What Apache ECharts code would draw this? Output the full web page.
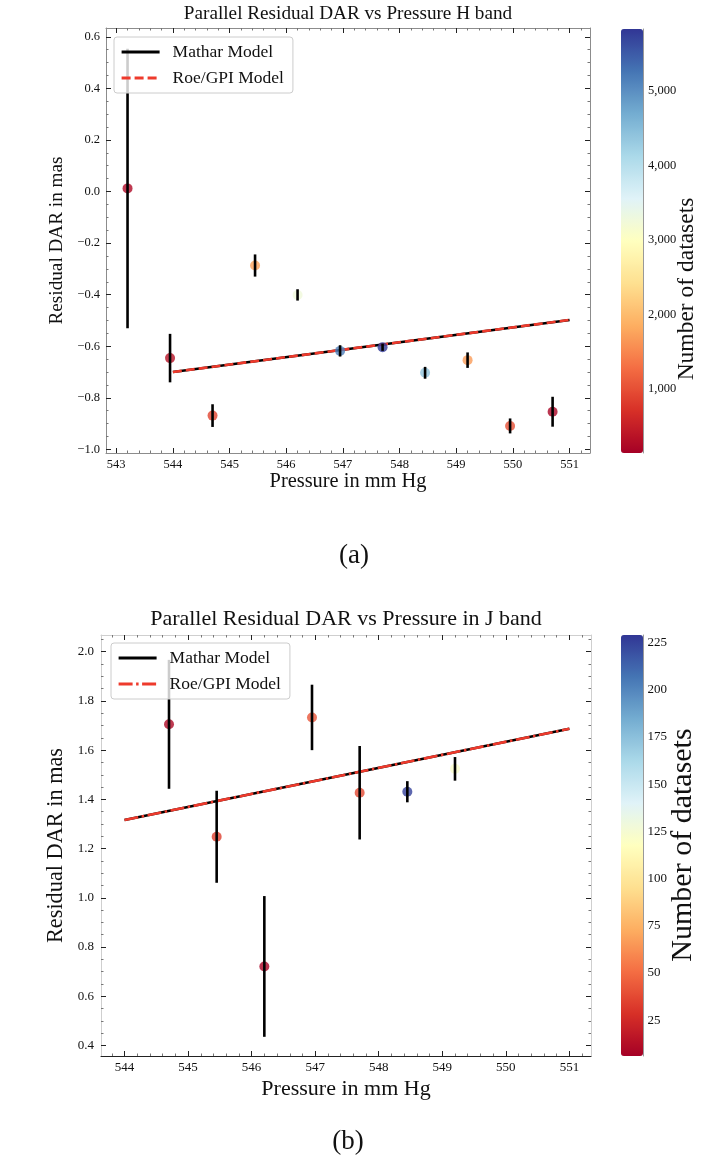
<!DOCTYPE html>
<html lang="en">
<head>
    <meta charset="UTF-8">
    <title>Parallel Residual DAR vs Pressure</title>
    <script src="https://cdn.jsdelivr.net/npm/echarts@6/dist/echarts.min.js"></script>
    <style>
        html, body { margin: 0; padding: 0; background: #fff; }
        #main { width: 714px; height: 1170px; }
    </style>
</head>
<body>
<div id="main"></div>

<script>
    // ---- (a) H band ----
    var pressH = [543.2, 543.95, 544.7, 545.45, 546.2, 546.95, 547.7, 548.45, 549.2, 549.95, 550.7];
    var residH = [0.012, -0.646, -0.869, -0.287, -0.401, -0.618, -0.604, -0.703, -0.654, -0.909, -0.854];
    var errH = [0.542, 0.094, 0.044, 0.043, 0.022, 0.022, 0.014, 0.023, 0.030, 0.029, 0.058];
    var countH = [250, 350, 900, 1750, 3270, 5150, 5800, 4400, 1680, 1000, 200];
    var modelPressH = [544, 551];
    var matharH = [-0.700, -0.498];
    var roeH = [-0.700, -0.498];
    var xTicksH = [543, 544, 545, 546, 547, 548, 549, 550, 551];
    var yTicksH = [-1.0, -0.8, -0.6, -0.4, -0.2, 0.0, 0.2, 0.4, 0.6];
    var cbarTicksH = [1000, 2000, 3000, 4000, 5000];

    // ---- (b) J band ----
    var pressJ = [544.7, 545.45, 546.2, 546.95, 547.7, 548.45, 549.2];
    var residJ = [1.705, 1.248, 0.721, 1.733, 1.427, 1.431, 1.524];
    var errJ = [0.262, 0.187, 0.286, 0.133, 0.190, 0.043, 0.048];
    var countJ = [10, 33, 8, 42, 37, 225, 122];
    var modelPressJ = [544, 551];
    var matharJ = [1.316, 1.687];
    var roeJ = [1.316, 1.687];
    var xTicksJ = [544, 545, 546, 547, 548, 549, 550, 551];
    var yTicksJ = [0.4, 0.6, 0.8, 1.0, 1.2, 1.4, 1.6, 1.8, 2.0];
    var cbarTicksJ = [25, 50, 75, 100, 125, 150, 175, 200, 225];

    var RDYLBU = ['#a50026', '#d73027', '#f46d43', '#fdae61', '#fee090', '#ffffbf',
                  '#e0f3f8', '#abd9e9', '#74add1', '#4575b4', '#313695'];
    var SERIF = 'Liberation Serif';
    var RED = '#ee3a2c';

    function pairs(xs, ys) {
        return xs.map(function (x, i) { return [x, ys[i]]; });
    }

    // minor tick positions between (and just outside) the majors
    function minorsOf(ticks, n, min, max) {
        var step = (ticks[1] - ticks[0]) / n, out = [];
        for (var v = ticks[0] - step * n; v <= max + 1e-9; v += step) {
            var r = Math.round(v * 1e6) / 1e6;
            if (r >= min && r <= max && ticks.indexOf(r) < 0) out.push(r);
        }
        return out;
    }

    function minus(v, d) {
        return v.toFixed(d).replace('-', '\u2212');
    }

    // one axis; label only on the main one
    function axis(grid, pos, min, max, ticks, len, tickColor, line, label) {
        return {
            type: 'value', gridIndex: grid, position: pos, min: min, max: max,
            axisLine: {show: !!line, onZero: false, lineStyle: {color: line || '#000', width: 1}},
            axisTick: {show: true, inside: true, length: len, customValues: ticks,
                       lineStyle: {color: tickColor, width: 1}},
            axisLabel: label ? label : {show: false},
            splitLine: {show: false}
        };
    }

    function tickLabel(ticks, size, margin, fmt) {
        return {show: true, customValues: ticks, fontSize: size, fontFamily: SERIF,
                color: '#111', margin: margin, formatter: fmt};
    }

    var xAxes = [], yAxes = [];

    // top panel main grid (0)
    var xMinH = 542.82, xMaxH = 551.36, yMinH = -1.014, yMaxH = 0.634;
    var frameH = '#8c8c8c';
    var xa = axis(0, 'bottom', xMinH, xMaxH, xTicksH, 5, '#222', frameH,
        tickLabel(xTicksH, 12.5, 5, function (v) { return v.toFixed(0); }));
    xa.name = 'Pressure in mm Hg';
    xa.nameLocation = 'middle';
    xa.nameGap = 19;
    xa.nameTextStyle = {fontSize: 20.4, fontFamily: SERIF, color: '#111'};
    xAxes.push(xa,
        axis(0, 'bottom', xMinH, xMaxH, minorsOf(xTicksH, 5, xMinH, xMaxH), 2.5, '#777'),
        axis(0, 'top', xMinH, xMaxH, xTicksH, 5, '#222', frameH),
        axis(0, 'top', xMinH, xMaxH, minorsOf(xTicksH, 5, xMinH, xMaxH), 2.5, '#777'));
    var ya = axis(0, 'left', yMinH, yMaxH, yTicksH, 5, '#222', frameH,
        tickLabel(yTicksH, 12.5, 6, function (v) { return minus(v, 1); }));
    ya.name = 'Residual DAR in mas';
    ya.nameLocation = 'middle';
    ya.nameGap = 33;
    ya.nameTextStyle = {fontSize: 19.2, fontFamily: SERIF, color: '#111'};
    yAxes.push(ya,
        axis(0, 'left', yMinH, yMaxH, minorsOf(yTicksH, 4, yMinH, yMaxH), 2.5, '#777'),
        axis(0, 'right', yMinH, yMaxH, yTicksH, 5, '#222', frameH),
        axis(0, 'right', yMinH, yMaxH, minorsOf(yTicksH, 4, yMinH, yMaxH), 2.5, '#777'));

    // top colorbar grid (1)
    var cMinH = 140, cMaxH = 5835;
    xAxes.push({type: 'value', gridIndex: 1, min: 0, max: 1, show: false});
    yAxes.push(
        axis(1, 'right', cMinH, cMaxH, cbarTicksH, 5, '#222', '#999',
            tickLabel(cbarTicksH, 12.5, 5, function (v) { return v.toLocaleString('en-US'); })),
        axis(1, 'right', cMinH, cMaxH, minorsOf(cbarTicksH, 5, cMinH, cMaxH), 2.5, '#444'));

    // bottom panel main grid (2)
    var xMinJ = 543.63, xMaxJ = 551.34, yMinJ = 0.357, yMaxJ = 2.068;
    var xb = axis(2, 'bottom', xMinJ, xMaxJ, xTicksJ, 5, '#222', '#222',
        tickLabel(xTicksJ, 13, 5, function (v) { return v.toFixed(0); }));
    xb.name = 'Pressure in mm Hg';
    xb.nameLocation = 'middle';
    xb.nameGap = 22;
    xb.nameTextStyle = {fontSize: 22, fontFamily: SERIF, color: '#111'};
    xAxes.push(xb,
        axis(2, 'bottom', xMinJ, xMaxJ, minorsOf(xTicksJ, 5, xMinJ, xMaxJ), 2.5, '#777'),
        axis(2, 'top', xMinJ, xMaxJ, xTicksJ, 5, '#222', '#cfcfcf'),
        axis(2, 'top', xMinJ, xMaxJ, minorsOf(xTicksJ, 5, xMinJ, xMaxJ), 2.5, '#777'));
    var yb = axis(2, 'left', yMinJ, yMaxJ, yTicksJ, 5, '#222', '#cfcfcf',
        tickLabel(yTicksJ, 13, 7, function (v) { return minus(v, 1); }));
    yb.name = 'Residual DAR in mas';
    yb.nameLocation = 'middle';
    yb.nameGap = 30;
    yb.nameTextStyle = {fontSize: 22.3, fontFamily: SERIF, color: '#111'};
    yAxes.push(yb,
        axis(2, 'left', yMinJ, yMaxJ, minorsOf(yTicksJ, 4, yMinJ, yMaxJ), 2.5, '#777'),
        axis(2, 'right', yMinJ, yMaxJ, yTicksJ, 5, '#222', '#cfcfcf'),
        axis(2, 'right', yMinJ, yMaxJ, minorsOf(yTicksJ, 4, yMinJ, yMaxJ), 2.5, '#777'));

    // bottom colorbar grid (3)
    var cMinJ = 6, cMaxJ = 229;
    xAxes.push({type: 'value', gridIndex: 3, min: 0, max: 1, show: false});
    yAxes.push(
        axis(3, 'right', cMinJ, cMaxJ, cbarTicksJ, 5, '#222', '#999',
            tickLabel(cbarTicksJ, 13, 4.5, function (v) { return String(v); })),
        axis(3, 'right', cMinJ, cMaxJ, minorsOf(cbarTicksJ, 5, cMinJ, cMaxJ), 2.5, '#444'));

    function errItem(params, api) {
        var hi = api.coord([api.value(0), api.value(2)]);
        var lo = api.coord([api.value(0), api.value(1)]);
        return {
            type: 'line',
            shape: {x1: hi[0], y1: hi[1], x2: lo[0], y2: lo[1]},
            style: {stroke: '#000', lineWidth: 2.6}
        };
    }

    // z kept below the legend (z 4) so the legend box veils what runs behind it
    function panelSeries(xi, yi, suffix, px, py, pe, pc, mx, mm, mr, roeDash) {
        return [
            {name: 'Mathar Model' + suffix, type: 'line', xAxisIndex: xi, yAxisIndex: yi,
             data: pairs(mx, mm), symbol: 'none', z: 1,
             lineStyle: {color: '#000', width: 2.6, type: 'solid'}, itemStyle: {color: '#000'}},
            {name: 'Roe/GPI Model' + suffix, type: 'line', xAxisIndex: xi, yAxisIndex: yi,
             data: pairs(mx, mr), symbol: 'none', z: 1.5,
             lineStyle: {color: RED, width: 2.6, type: roeDash}, itemStyle: {color: RED}},
            {type: 'scatter', xAxisIndex: xi, yAxisIndex: yi, symbolSize: 10, z: 2,
             data: px.map(function (x, i) { return [x, py[i], pc[i]]; })},
            {type: 'custom', xAxisIndex: xi, yAxisIndex: yi, z: 3, renderItem: errItem,
             encode: {x: 0, y: [1, 2]},
             data: px.map(function (x, i) { return [x, py[i] - pe[i], py[i] + pe[i]]; })}
        ];
    }

    var series = panelSeries(0, 0, '', pressH, residH, errH, countH, modelPressH, matharH, roeH, [9, 4])
        .concat(panelSeries(5, 6, ' (J)', pressJ, residJ, errJ, countJ, modelPressJ, matharJ, roeJ, [14, 3.5, 2.5, 3.5]));

    function legendAt(left, top, names) {
        return {
            data: names, orient: 'vertical', left: left, top: top, selectedMode: false,
            itemWidth: 38, itemHeight: 14, itemGap: 6,
            padding: [5, 9, 5, 6],
            itemStyle: {opacity: 0},
            lineStyle: {width: 3.2},
            backgroundColor: 'rgba(255,255,255,0.8)', borderColor: '#cccccc', borderWidth: 1, borderRadius: 3,
            textStyle: {fontSize: 17.5, fontFamily: SERIF, color: '#111', lineHeight: 20, padding: [0, 0, 0, 8]},
            formatter: function (n) { return n.replace(' (J)', ''); }
        };
    }

    function label(text, x, y, size, rot) {
        return {type: 'text', x: x, y: y, rotation: rot || 0,
                style: {text: text, fontSize: size, fontFamily: SERIF, fill: '#111',
                        align: 'center', verticalAlign: 'middle'}};
    }

    var chart = echarts.init(document.getElementById('main'));
    chart.setOption({
        animation: false,
        backgroundColor: '#fff',
        grid: [
            {left: 106, top: 28, width: 484, height: 425},
            {left: 621, top: 29, width: 22, height: 424},
            {left: 101, top: 635, width: 490, height: 421},
            {left: 621, top: 635, width: 22, height: 421}
        ],
        xAxis: xAxes,
        yAxis: yAxes,
        visualMap: [
            {type: 'continuous', seriesIndex: 2, dimension: 2, min: cMinH, max: cMaxH,
             inRange: {color: RDYLBU}, left: 621, top: 29, itemWidth: 22, itemHeight: 424,
             padding: 0, calculable: false, hoverLink: false, text: ['', '']},
            {type: 'continuous', seriesIndex: 6, dimension: 2, min: cMinJ, max: cMaxJ,
             inRange: {color: RDYLBU}, left: 621, top: 635, itemWidth: 22, itemHeight: 421,
             padding: 0, calculable: false, hoverLink: false, text: ['', '']}
        ],
        legend: [
            legendAt(114, 37, ['Mathar Model', 'Roe/GPI Model']),
            legendAt(111, 643, ['Mathar Model (J)', 'Roe/GPI Model (J)'])
        ],
        graphic: {elements: [
            label('Parallel Residual DAR vs Pressure H band', 348, 14, 19.2),
            label('(a)', 354, 556, 27),
            label('Number of datasets', 687, 289, 23.5, Math.PI / 2),
            label('Parallel Residual DAR vs Pressure in J band', 346, 619, 22),
            label('(b)', 348, 1142, 27),
            label('Number of datasets', 683, 845, 30, Math.PI / 2)
        ]},
        series: series
    });
</script>
</body>
</html>
